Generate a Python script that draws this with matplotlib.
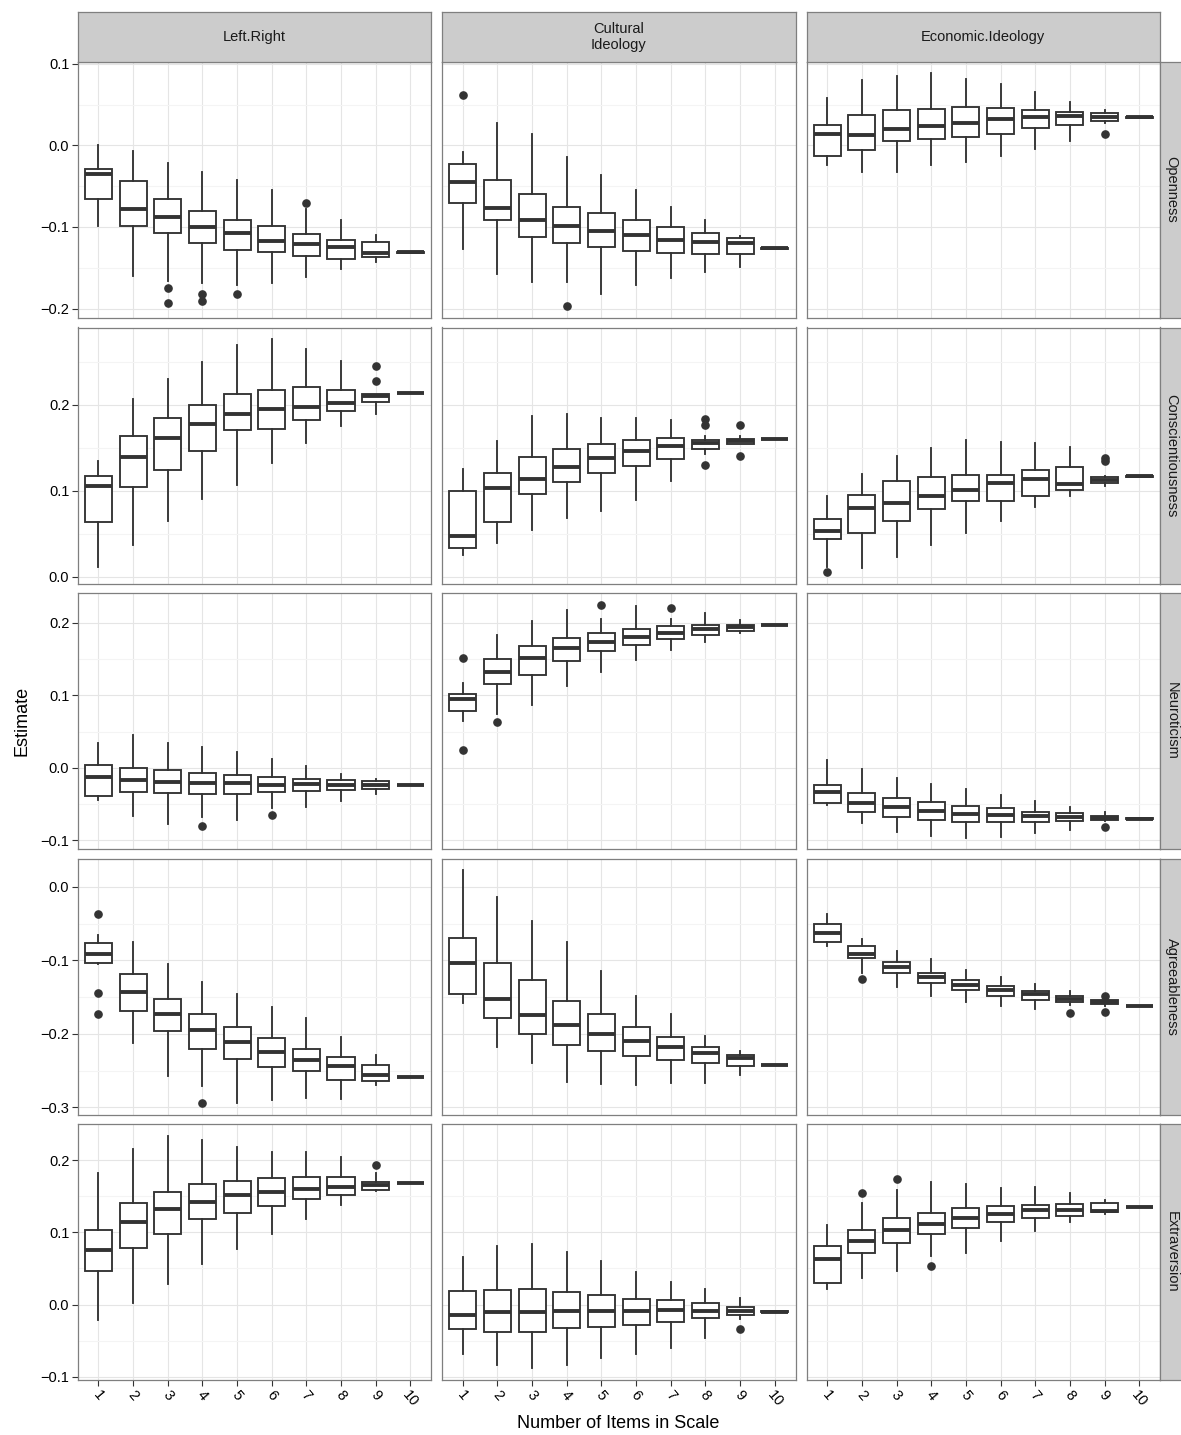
import matplotlib
matplotlib.use("Agg")
import matplotlib.pyplot as plt
from matplotlib.ticker import MultipleLocator, AutoMinorLocator

plt.rcParams['font.family'] = ['Liberation Sans', 'DejaVu Sans']

items = list(range(1, 11))
col_names = ["Left.Right", "Cultural\nIdeology", "Economic.Ideology"]
row_names = ["Openness", "Conscientiousness", "Neuroticism", "Agreeableness", "Extraversion"]

# each panel: [whisker low, q1, median, q3, whisker high] for items 1..10
open_lr = [[-0.099, -0.160, -0.166, -0.169, -0.171, -0.169, -0.161, -0.152, -0.143, -0.1315],
           [-0.066, -0.099, -0.107, -0.120, -0.128, -0.131, -0.135, -0.139, -0.137, -0.1315],
           [-0.035, -0.078, -0.088, -0.100, -0.107, -0.117, -0.121, -0.125, -0.132, -0.131],
           [-0.029, -0.044, -0.066, -0.080, -0.092, -0.099, -0.109, -0.116, -0.119, -0.1305],
           [0.000, -0.007, -0.022, -0.033, -0.042, -0.055, -0.078, -0.091, -0.110, -0.1305]]
open_lr_out = {3: [-0.175, -0.193], 4: [-0.182, -0.191], 5: [-0.182], 7: [-0.0705]}

open_cu = [[-0.127, -0.158, -0.168, -0.168, -0.182, -0.171, -0.163, -0.155, -0.149, -0.1265],
           [-0.070, -0.091, -0.112, -0.120, -0.125, -0.130, -0.1315, -0.133, -0.133, -0.1265],
           [-0.045, -0.077, -0.092, -0.099, -0.1045, -0.110, -0.116, -0.119, -0.120, -0.126],
           [-0.0225, -0.042, -0.060, -0.075, -0.083, -0.092, -0.100, -0.107, -0.114, -0.1255],
           [-0.008, 0.028, 0.014, -0.014, -0.036, -0.055, -0.075, -0.092, -0.111, -0.1255]]
open_cu_out = {1: [0.062], 4: [-0.197]}

open_ec = [[-0.024, -0.033, -0.032, -0.024, -0.0197, -0.013, -0.0045, 0.0053, 0.027, 0.0344],
           [-0.0127, -0.005, 0.0053, 0.008, 0.011, 0.0139, 0.021, 0.0246, 0.030, 0.0340],
           [0.0135, 0.0127, 0.0205, 0.024, 0.0279, 0.032, 0.0344, 0.0365, 0.0348, 0.0344],
           [0.0246, 0.037, 0.044, 0.045, 0.0467, 0.0463, 0.044, 0.041, 0.0398, 0.0348],
           [0.058, 0.080, 0.0857, 0.0885, 0.0816, 0.0754, 0.065, 0.053, 0.043, 0.0348]]
open_ec_out = {9: [0.0135]}

cons_lr = [[0.012, 0.037, 0.0653, 0.0905, 0.1064, 0.1324, 0.1557, 0.1748, 0.1895, 0.2132],
           [0.0637, 0.104, 0.1235, 0.1456, 0.170, 0.1713, 0.1817, 0.193, 0.2027, 0.2132],
           [0.1056, 0.139, 0.1616, 0.178, 0.1887, 0.1946, 0.1977, 0.2023, 0.2097, 0.2136],
           [0.117, 0.163, 0.185, 0.199, 0.2124, 0.2167, 0.220, 0.2175, 0.2124, 0.214],
           [0.135, 0.206, 0.230, 0.2497, 0.269, 0.276, 0.265, 0.2505, 0.2124, 0.214]]
cons_lr_out = {9: [0.245, 0.2276]}

cons_cu = [[0.0249, 0.0396, 0.054, 0.068, 0.076, 0.0893, 0.1115, 0.143, 0.154, 0.1596],
           [0.0338, 0.0637, 0.0959, 0.110, 0.121, 0.129, 0.1367, 0.148, 0.154, 0.1596],
           [0.048, 0.1033, 0.1138, 0.127, 0.138, 0.1456, 0.1515, 0.1553, 0.1577, 0.160],
           [0.1002, 0.121, 0.139, 0.1487, 0.1546, 0.1584, 0.1608, 0.159, 0.160, 0.1604],
           [0.1254, 0.1577, 0.1864, 0.1887, 0.1845, 0.185, 0.1817, 0.164, 0.163, 0.1604]]
cons_cu_out = {8: [0.183, 0.176, 0.1297], 9: [0.1767, 0.140]}

cons_ec = [[0.011, 0.0105, 0.023, 0.0369, 0.0513, 0.0652, 0.0808, 0.0944, 0.106, 0.1165],
           [0.0435, 0.0513, 0.0649, 0.079, 0.0885, 0.088, 0.094, 0.1014, 0.1095, 0.1165],
           [0.0536, 0.080, 0.0854, 0.094, 0.1014, 0.1095, 0.1134, 0.1076, 0.113, 0.1169],
           [0.0676, 0.095, 0.111, 0.1165, 0.118, 0.1188, 0.1239, 0.127, 0.116, 0.1173],
           [0.094, 0.1196, 0.1406, 0.150, 0.1584, 0.157, 0.1553, 0.1507, 0.117, 0.1173]]
cons_ec_out = {1: [0.0058], 9: [0.1375, 0.1348]}

neur_lr = [[-0.0438, -0.0664, -0.077, -0.068, -0.0724, -0.055, -0.0544, -0.046, -0.036, -0.0243],
           [-0.0387, -0.0327, -0.035, -0.036, -0.0355, -0.0327, -0.0318, -0.0304, -0.0286, -0.0243],
           [-0.0124, -0.017, -0.0189, -0.0203, -0.0212, -0.0235, -0.0217, -0.023, -0.0235, -0.024],
           [0.0046, 0.0005, -0.0023, -0.0065, -0.0092, -0.0124, -0.0147, -0.017, -0.0175, -0.0237],
           [0.035, 0.0456, 0.035, 0.0286, 0.0226, 0.012, 0.0023, -0.0078, -0.015, -0.0237]]
neur_lr_out = {4: [-0.080], 6: [-0.0645]}

neur_cu = [[0.0645, 0.074, 0.0866, 0.1124, 0.132, 0.1484, 0.1622, 0.1742, 0.1866, 0.1968],
           [0.0779, 0.1152, 0.128, 0.1475, 0.161, 0.1696, 0.1774, 0.1834, 0.189, 0.1968],
           [0.095, 0.1327, 0.152, 0.1654, 0.1737, 0.181, 0.1862, 0.1912, 0.1945, 0.1972],
           [0.1023, 0.150, 0.1687, 0.1793, 0.1866, 0.1917, 0.1954, 0.1972, 0.1972, 0.1976],
           [0.117, 0.1834, 0.2028, 0.2175, 0.2055, 0.223, 0.2055, 0.2138, 0.2046, 0.1976]]
neur_cu_out = {1: [0.1516, 0.024], 2: [0.0636], 5: [0.2249], 7: [0.2212]}

neur_ec = [[-0.0516, -0.0756, -0.0885, -0.0945, -0.0963, -0.095, -0.090, -0.0857, -0.0735, -0.0703],
           [-0.0484, -0.0613, -0.0682, -0.0719, -0.0742, -0.0742, -0.0747, -0.0728, -0.0719, -0.0703],
           [-0.0327, -0.048, -0.0544, -0.060, -0.0631, -0.0645, -0.0664, -0.0677, -0.0690, -0.070],
           [-0.023, -0.0346, -0.0415, -0.047, -0.0525, -0.0558, -0.0604, -0.0622, -0.0664, -0.0697],
           [0.011, -0.0014, -0.0134, -0.0217, -0.0286, -0.0369, -0.046, -0.0535, -0.0608, -0.0697]]
neur_ec_out = {9: [-0.0816]}

agre_lr = [[-0.105, -0.213, -0.257, -0.271, -0.294, -0.290, -0.287, -0.288, -0.2695, -0.2590],
           [-0.1036, -0.1686, -0.196, -0.221, -0.2345, -0.245, -0.251, -0.262, -0.2636, -0.2590],
           [-0.0914, -0.1427, -0.1736, -0.1945, -0.211, -0.224, -0.2355, -0.243, -0.2564, -0.2586],
           [-0.0768, -0.119, -0.152, -0.173, -0.191, -0.206, -0.221, -0.231, -0.242, -0.2582],
           [-0.065, -0.0755, -0.1055, -0.129, -0.146, -0.1636, -0.179, -0.2036, -0.228, -0.2582]]
agre_lr_out = {1: [-0.0377, -0.1445, -0.1727], 4: [-0.294]}

agre_cu = [[-0.158, -0.2177, -0.240, -0.2655, -0.2686, -0.270, -0.267, -0.2664, -0.2564, -0.2427],
           [-0.1455, -0.1786, -0.200, -0.2145, -0.2236, -0.2295, -0.236, -0.2395, -0.2436, -0.2427],
           [-0.104, -0.153, -0.174, -0.1873, -0.1995, -0.2095, -0.218, -0.2264, -0.233, -0.2423],
           [-0.0695, -0.103, -0.127, -0.155, -0.1727, -0.1905, -0.204, -0.2173, -0.228, -0.2419],
           [0.0223, -0.014, -0.046, -0.0745, -0.115, -0.149, -0.173, -0.2027, -0.2236, -0.2419]]
agre_cu_out = {}

agre_ec = [[-0.080, -0.117, -0.1368, -0.1486, -0.156, -0.1618, -0.1664, -0.161, -0.162, -0.1627],
           [-0.0755, -0.0968, -0.1177, -0.1305, -0.140, -0.148, -0.154, -0.1573, -0.1595, -0.1627],
           [-0.0632, -0.0914, -0.109, -0.123, -0.1332, -0.1405, -0.1464, -0.153, -0.1573, -0.1627],
           [-0.050, -0.0805, -0.1027, -0.1168, -0.1268, -0.1345, -0.1414, -0.1486, -0.1545, -0.1627],
           [-0.0364, -0.0709, -0.0877, -0.0986, -0.1127, -0.123, -0.1318, -0.1414, -0.153, -0.1627]]
agre_ec_out = {2: [-0.126], 8: [-0.1714], 9: [-0.1486, -0.1705]}

extr_lr = [[-0.0213, 0.0019, 0.029, 0.056, 0.0764, 0.098, 0.119, 0.1375, 0.1565, 0.1685],
           [0.0463, 0.0778, 0.0977, 0.118, 0.1273, 0.137, 0.1463, 0.1523, 0.1583, 0.1685],
           [0.0755, 0.1139, 0.1329, 0.1417, 0.151, 0.156, 0.1593, 0.1625, 0.1653, 0.1685],
           [0.1037, 0.1403, 0.156, 0.167, 0.1713, 0.1745, 0.1764, 0.1764, 0.1694, 0.1689],
           [0.1815, 0.2148, 0.2338, 0.2278, 0.218, 0.211, 0.2106, 0.204, 0.1824, 0.1689]]
extr_lr_out = {9: [0.1926]}

extr_cu = [[-0.068, -0.0838, -0.0884, -0.0833, -0.0745, -0.0685, -0.0597, -0.0468, -0.020, -0.0097],
           [-0.0343, -0.038, -0.0375, -0.032, -0.031, -0.0282, -0.0245, -0.019, -0.0144, -0.0097],
           [-0.0139, -0.0097, -0.011, -0.0088, -0.0088, -0.0088, -0.0079, -0.0083, -0.0083, -0.0097],
           [0.019, 0.0204, 0.0208, 0.0167, 0.0134, 0.0083, 0.0065, 0.0023, -0.0032, -0.0093],
           [0.0653, 0.081, 0.0843, 0.0727, 0.0597, 0.0444, 0.031, 0.0208, 0.0097, -0.0093]]
extr_cu_out = {9: [-0.0333]}

extr_ec = [[0.0218, 0.0366, 0.0458, 0.0667, 0.0718, 0.0875, 0.1023, 0.1144, 0.125, 0.1350],
           [0.0296, 0.0718, 0.0852, 0.0972, 0.1065, 0.1139, 0.120, 0.1231, 0.1282, 0.1350],
           [0.0625, 0.088, 0.1028, 0.112, 0.120, 0.126, 0.1306, 0.1315, 0.1292, 0.1352],
           [0.0806, 0.1032, 0.1204, 0.1269, 0.1338, 0.1361, 0.1375, 0.1394, 0.1407, 0.1354],
           [0.1097, 0.1403, 0.158, 0.170, 0.167, 0.1616, 0.1625, 0.155, 0.1449, 0.1354]]
extr_ec_out = {2: [0.1546], 3: [0.174], 4: [0.0537]}

panels = [[(open_lr, open_lr_out), (open_cu, open_cu_out), (open_ec, open_ec_out)],
          [(cons_lr, cons_lr_out), (cons_cu, cons_cu_out), (cons_ec, cons_ec_out)],
          [(neur_lr, neur_lr_out), (neur_cu, neur_cu_out), (neur_ec, neur_ec_out)],
          [(agre_lr, agre_lr_out), (agre_cu, agre_cu_out), (agre_ec, agre_ec_out)],
          [(extr_lr, extr_lr_out), (extr_cu, extr_cu_out), (extr_ec, extr_ec_out)]]

W, H = 1181, 1435
fig = plt.figure(figsize=(W / 100, H / 100), dpi=100)


def rect(x0, y0, w, h):
    return [x0 / W, 1 - (y0 + h) / H, w / W, h / H]


def fmt(v, p):
    s = f"{v:.1f}"
    if s == "-0.0":
        s = "0.0"
    return s.replace("-", "\u2212")


col_x = [77.6, 442.0, 806.5]
row_y = [61.7, 327.5, 593.3, 858.7, 1124.0]
pw, ph = 353.5, 256.0
dark = "#333333"
border = "#7F7F7F"

for r in range(5):
    # shared y range per row, ggplot style 5% expansion
    lo_all, hi_all = [], []
    for stats, outs in panels[r]:
        lo_all += stats[0] + [v for vs in outs.values() for v in vs]
        hi_all += stats[4] + [v for vs in outs.values() for v in vs]
    ymin, ymax = min(lo_all), max(hi_all)
    pad = (ymax - ymin) * 0.05

    for c in range(3):
        stats, outs = panels[r][c]
        ax = fig.add_axes(rect(col_x[c], row_y[r], pw, ph))
        bstats = []
        for i in range(10):
            bstats.append(dict(whislo=stats[0][i], q1=stats[1][i], med=stats[2][i],
                               q3=stats[3][i], whishi=stats[4][i],
                               fliers=outs.get(i + 1, [])))
        ax.bxp(bstats, positions=items, widths=0.78, showcaps=False, patch_artist=True,
               boxprops=dict(facecolor="white", edgecolor=dark, linewidth=1.35),
               medianprops=dict(color=dark, linewidth=2.8, solid_capstyle="butt"),
               whiskerprops=dict(color=dark, linewidth=1.35),
               flierprops=dict(marker="o", markerfacecolor=dark, markeredgecolor=dark,
                               markersize=5.2))
        ax.set_xlim(0.4, 10.6)
        ax.set_ylim(ymin - pad, ymax + pad)
        ax.set_axisbelow(True)
        ax.yaxis.set_major_locator(MultipleLocator(0.1))
        ax.yaxis.set_minor_locator(AutoMinorLocator(2))
        ax.yaxis.set_major_formatter(plt.FuncFormatter(fmt))
        ax.grid(which="major", color="#E5E5E5", linewidth=0.8)
        ax.grid(which="minor", axis="y", color="#F4F4F4", linewidth=0.8)
        ax.set_xticks(items)
        ax.set_xticklabels([str(i) for i in items], rotation=-50, ha="center", va="top",
                           fontsize=10.5)
        ax.tick_params(which="minor", length=0)
        ax.tick_params(which="major", color=dark, length=4, width=0.8, pad=2,
                       labelsize=10.5, labelcolor="black")
        ax.tick_params(left=(c == 0), labelleft=(c == 0),
                       bottom=(r == 4), labelbottom=(r == 4))
        for sp in ax.spines.values():
            sp.set_color(border)
            sp.set_linewidth(0.9)

        if r == 0:
            sax = fig.add_axes(rect(col_x[c], 12.3, pw, 49.4))
            sax.set_facecolor("#CCCCCC")
            sax.set_xticks([])
            sax.set_yticks([])
            for sp in sax.spines.values():
                sp.set_color(border)
                sp.set_linewidth(0.9)
            sax.text(0.5, 0.5, col_names[c], ha="center", va="center", fontsize=10.5,
                     color="#1A1A1A", transform=sax.transAxes, linespacing=1.25)
        if c == 2:
            sax = fig.add_axes(rect(col_x[c] + pw, row_y[r], 23, ph))
            sax.set_facecolor("#CCCCCC")
            sax.set_xticks([])
            sax.set_yticks([])
            for sp in sax.spines.values():
                sp.set_color(border)
                sp.set_linewidth(0.9)
            sax.text(0.5, 0.5, row_names[r], ha="center", va="center", fontsize=10.5,
                     rotation=-90, color="#1A1A1A", transform=sax.transAxes)

fig.text(22 / W, 1 - 721 / H, "Estimate", rotation=90, ha="center", va="center", fontsize=13)
fig.text(618.5 / W, 1 - 1424 / H, "Number of Items in Scale", ha="center", va="center", fontsize=13)

fig.savefig("out.png", dpi=100)
